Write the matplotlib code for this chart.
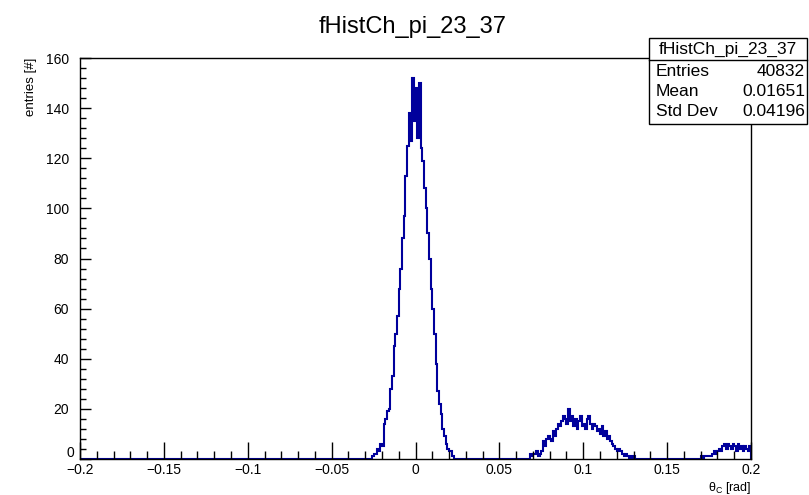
import numpy as np
import matplotlib.pyplot as plt
from matplotlib.patches import Rectangle
from matplotlib.lines import Line2D
from matplotlib.ticker import MultipleLocator

plt.rcParams['font.family'] = ['Liberation Sans', 'DejaVu Sans']

# histogram: 400 bins from -0.2 to 0.2
n_bins = 400
x_min, x_max = -0.2, 0.2

# main peak, first bin starts at -0.026
peak_start = -0.026
peak_vals = [1, 2, 2, 4, 3, 6, 5, 14, 16, 19, 20, 28, 33, 45, 50, 57, 68, 76, 88, 97,
             113, 125, 138, 127, 152, 135, 148, 128, 150, 124, 119, 108, 100, 90, 80,
             68, 60, 50, 38, 27, 22, 18, 12, 9, 6, 4, 3, 3, 1]

# second bump, first bin starts at 0.068
bump_start = 0.068
bump_vals = [2, 1, 2, 2, 3, 1, 2, 3, 7, 5, 8, 9, 8, 7, 11, 9, 12, 14, 13, 15,
             17, 16, 14, 20, 15, 17, 13, 16, 12, 15, 17, 13, 14, 12, 16, 17, 14, 12,
             14, 13, 11, 12, 10, 13, 9, 11, 8, 9, 7, 6, 5, 4, 3, 4, 3, 2, 1, 2, 1, 0,
             1, 0, 1]

# tail at the right edge, first bin starts at 0.170
tail_start = 0.170
tail_vals = [1, 0, 1, 1, 1, 1, 1, 2, 3, 2, 3, 4, 3, 5, 6, 4, 6, 5, 4, 6,
             5, 3, 6, 4, 5, 3, 5, 4, 3, 5]

hist_title = 'fHistCh_pi_23_37'
stat_names = ['Entries', 'Mean', 'Std Dev']
stat_vals = ['40832', '0.01651', '0.04196']

edges = np.linspace(x_min, x_max, n_bins + 1)
bw = (x_max - x_min) / n_bins
counts = np.zeros(n_bins)
for start, vals in [(peak_start, peak_vals), (bump_start, bump_vals), (tail_start, tail_vals)]:
    i0 = int(round((start - x_min) / bw))
    counts[i0:i0 + len(vals)] = vals

W, H = 809, 495
fig = plt.figure(figsize=(W / 100, H / 100), dpi=100)
ax = fig.add_axes([80 / W, 1 - 459 / H, (751 - 80) / W, (459 - 58) / H])

ax.stairs(counts, edges, color='#00009c', lw=1.5, zorder=1)

ax.set_xlim(x_min, x_max)
ax.set_ylim(0, 160)
ax.xaxis.set_major_locator(MultipleLocator(0.05))
ax.xaxis.set_minor_locator(MultipleLocator(0.01))
ax.yaxis.set_major_locator(MultipleLocator(20))
ax.yaxis.set_minor_locator(MultipleLocator(4))
ax.tick_params(which='both', direction='in', top=False, right=False, labelsize=10, width=1)
ax.tick_params(axis='x', which='major', length=12, pad=3)
ax.tick_params(axis='x', which='minor', length=6)
ax.tick_params(axis='y', which='major', length=8, pad=8)
ax.tick_params(axis='y', which='minor', length=4)
ax.xaxis.set_major_formatter(plt.FuncFormatter(lambda v, p: ('%g' % round(v, 3)).replace('-', '\u2212')))
# y "0" is drawn by hand a bit higher, like ROOT does
ax.yaxis.set_major_formatter(plt.FuncFormatter(lambda v, p: '' if v == 0 else '%g' % v))
ax.text(-6 / 671, 6 / 401, '0', transform=ax.transAxes, ha='right', va='center', fontsize=10)
for s in ax.spines.values():
    s.set_linewidth(1)

ax.set_xlabel(r'$\mathregular{θ_C}$ [rad]', fontsize=9, loc='right', labelpad=2)
ax.set_ylabel('entries [#]', fontsize=9.5, loc='top', labelpad=6)

fig.text(413 / W, 1 - 27 / H, hist_title, ha='center', va='center', fontsize=17)

# stats box
bx0, bx1, by0, by1 = 649, 807, 38, 124
fig.patches.append(Rectangle((bx0 / W, 1 - by1 / H), (bx1 - bx0) / W, (by1 - by0) / H,
                             transform=fig.transFigure, facecolor='white',
                             edgecolor='black', lw=1, zorder=5))
fig.lines.append(Line2D([bx0 / W, bx1 / W], [1 - 60 / H, 1 - 60 / H],
                        transform=fig.transFigure, color='black', lw=1, zorder=6))
fig.text((bx0 + bx1) / 2 / W, 1 - 49 / H, hist_title, ha='center', va='center',
         fontsize=12.5, zorder=7)
for k, (nm, vl) in enumerate(zip(stat_names, stat_vals)):
    yy = 1 - (71 + 20.5 * k) / H
    fig.text(656 / W, yy, nm, ha='left', va='center', fontsize=12.5, zorder=7)
    fig.text(805 / W, yy, vl, ha='right', va='center', fontsize=12.5, zorder=7)

fig.savefig('out.png', dpi=100)
